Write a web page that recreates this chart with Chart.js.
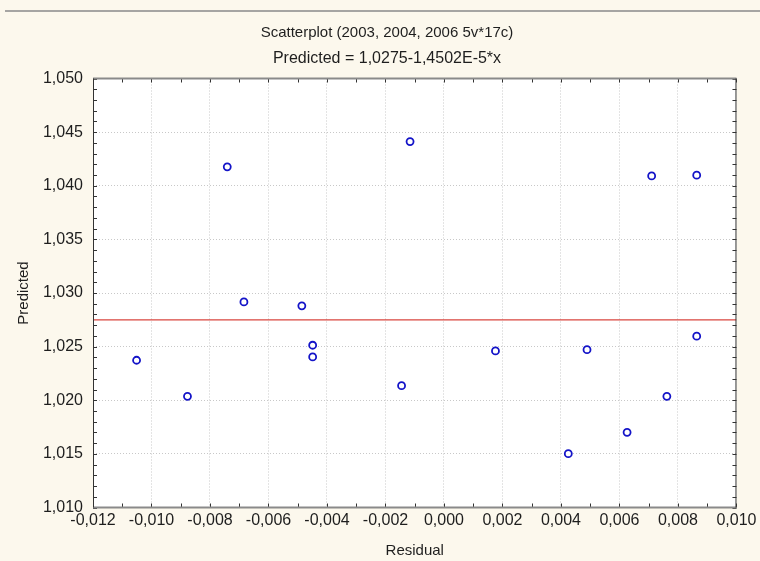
<!DOCTYPE html>
<html>
<head>
<meta charset="utf-8">
<script src="https://cdn.jsdelivr.net/npm/chart.js@4.4.1/dist/chart.umd.min.js"></script>
<style>
  html, body { margin: 0; padding: 0; background: #fcf8ed; }
  #wrap { width: 760px; height: 561px; position: relative; }
</style>
</head>
<body>
<div id="wrap"><canvas id="c"></canvas></div>
<script>
// Residuals vs predicted values, 17 cases
const residual = [
  -0.01051, -0.00877, -0.00741, -0.00684, -0.00486, -0.00449, -0.00449,
  -0.00116, -0.00145, 0.00176, 0.00489, 0.00864, 0.00762, 0.00626,
  0.00425, 0.00710, 0.00864
];
const predicted = [
  1.02373, 1.02037, 1.04176, 1.02917, 1.02880, 1.02513, 1.02404,
  1.04412, 1.02136, 1.02460, 1.02472, 1.02597, 1.02037, 1.01701,
  1.01502, 1.04092, 1.04099
];

// Fitted line: Predicted = 1,0275 - 1,4502E-5 * x
const intercept = 1.0275;
const slope = -1.4502e-5;

// Axis ranges and tick spacing
const xRange = [-0.012, 0.010];
const yRange = [1.010, 1.050];
const xMajorStep = 0.002;
const yMajorStep = 0.005;
const minorStep = 0.001;

const titleText = 'Scatterplot (2003, 2004, 2006 5v*17c)';
const subtitleText = 'Predicted = 1,0275-1,4502E-5*x';
const xTitle = 'Residual';
const yTitle = 'Predicted';

const FONT = 'Liberation Sans, Arial, sans-serif';
const BG = '#fcf8ed';
const INK = '#1e1e1e';

function fmt(v) {
  if (Math.abs(v) < 1e-9) v = 0;
  return v.toFixed(3).replace('.', ',');
}
function isMajor(v, step) {
  const n = Math.round(v / minorStep);
  const m = Math.round(step / minorStep);
  return n % m === 0;
}

const points = residual.map((x, i) => ({ x: x, y: predicted[i] }));
const fitLine = xRange.map(x => ({ x: x, y: intercept + slope * x }));

const framePlugin = {
  id: 'frame',
  beforeDraw(chart) {
    const { ctx, chartArea: a } = chart;
    ctx.save();
    ctx.fillStyle = BG;
    ctx.fillRect(0, 0, chart.width, chart.height);
    ctx.fillStyle = '#ffffff';
    ctx.fillRect(a.left, a.top, a.right - a.left, a.bottom - a.top);
    // rule across the top of the page
    ctx.strokeStyle = '#8a8a8a';
    ctx.lineWidth = 1.5;
    ctx.beginPath();
    ctx.moveTo(5, 11);
    ctx.lineTo(chart.width, 11);
    ctx.stroke();
    ctx.restore();
  },
  afterDraw(chart) {
    const { ctx, chartArea: a } = chart;
    const xs = chart.scales.x, ys = chart.scales.y;
    ctx.save();
    // inward tick marks on all four sides
    ctx.strokeStyle = '#333';
    ctx.lineWidth = 1;
    const len = 4;
    ctx.beginPath();
    xs.ticks.forEach(t => {
      const px = Math.round(xs.getPixelForValue(t.value)) + 0.5;
      ctx.moveTo(px, a.bottom); ctx.lineTo(px, a.bottom - len);
      ctx.moveTo(px, a.top); ctx.lineTo(px, a.top + len);
    });
    ys.ticks.forEach(t => {
      const py = Math.round(ys.getPixelForValue(t.value)) + 0.5;
      ctx.moveTo(a.left, py); ctx.lineTo(a.left + len, py);
      ctx.moveTo(a.right, py); ctx.lineTo(a.right - len, py);
    });
    ctx.stroke();
    // frame
    ctx.strokeStyle = '#8a8a8a';
    ctx.lineWidth = 2;
    ctx.beginPath();
    ctx.moveTo(a.left, a.top); ctx.lineTo(a.right, a.top);
    ctx.moveTo(a.left, a.bottom); ctx.lineTo(a.right, a.bottom);
    ctx.stroke();
    ctx.strokeStyle = '#333';
    ctx.lineWidth = 1;
    ctx.beginPath();
    ctx.moveTo(a.left + 0.5, a.top); ctx.lineTo(a.left + 0.5, a.bottom);
    ctx.moveTo(a.right - 0.5, a.top); ctx.lineTo(a.right - 0.5, a.bottom);
    ctx.stroke();
    ctx.restore();
  }
};

function gridColor(step, range) {
  return ctx => {
    const v = ctx.tick ? ctx.tick.value : null;
    if (v === null) return 'transparent';
    if (Math.abs(v - range[0]) < 1e-9 || Math.abs(v - range[1]) < 1e-9) return 'transparent';
    return isMajor(v, step) ? '#c8c8c8' : 'transparent';
  };
}

new Chart(document.getElementById('c'), {
  type: 'scatter',
  data: {
    datasets: [
      {
        data: points,
        pointStyle: 'circle',
        pointRadius: 3.5,
        pointBorderWidth: 1.8,
        borderColor: '#1414c8',
        backgroundColor: '#ffffff',
        pointHoverRadius: 3.5
      },
      {
        data: fitLine,
        showLine: true,
        borderColor: '#d9463f',
        borderWidth: 1.2,
        pointRadius: 0,
        pointHoverRadius: 0
      }
    ]
  },
  options: {
    responsive: true,
    maintainAspectRatio: false,
    animation: false,
    events: [],
    layout: { padding: { top: 0, right: 0, bottom: 0, left: 14 } },
    plugins: {
      legend: { display: false },
      tooltip: { enabled: false },
      title: {
        display: true,
        text: titleText,
        color: INK,
        font: { family: FONT, size: 15, weight: 'normal' },
        padding: { top: 24, bottom: 0 }
      },
      subtitle: {
        display: true,
        text: subtitleText,
        color: INK,
        font: { family: FONT, size: 16, weight: 'normal' },
        padding: { top: 7.4, bottom: 9.9 }
      }
    },
    scales: {
      x: {
        type: 'linear',
        min: xRange[0],
        max: xRange[1],
        afterFit(scale) { scale.height = 53.5; },
        ticks: {
          stepSize: minorStep,
          autoSkip: false,
          maxRotation: 0,
          padding: 3.5,
          color: INK,
          font: { family: FONT, size: 16 },
          callback: v => isMajor(v, xMajorStep) ? fmt(v) : ''
        },
        grid: { drawTicks: false, color: gridColor(xMajorStep, xRange), lineWidth: 1 },
        border: { display: false, dash: [1, 2] },
        title: {
          display: true,
          text: xTitle,
          color: INK,
          font: { family: FONT, size: 15 },
          padding: { top: 0, bottom: 1 }
        }
      },
      y: {
        type: 'linear',
        min: yRange[0],
        max: yRange[1],
        afterFit(scale) { scale.width = 79; },
        ticks: {
          stepSize: minorStep,
          autoSkip: false,
          padding: 10,
          color: INK,
          font: { family: FONT, size: 16 },
          callback: v => isMajor(v, yMajorStep) ? fmt(v) : ''
        },
        grid: { drawTicks: false, color: gridColor(yMajorStep, yRange), lineWidth: 1 },
        border: { display: false, dash: [1, 2] },
        title: {
          display: true,
          text: yTitle,
          color: INK,
          font: { family: FONT, size: 15 },
          padding: { top: 1, bottom: 0 }
        }
      },
      // empty margin on the right side of the plot
      yMargin: {
        type: 'linear',
        position: 'right',
        display: true,
        afterFit(scale) { scale.width = 23; },
        ticks: { display: false },
        grid: { display: false },
        border: { display: false },
        title: { display: false }
      }
    }
  },
  plugins: [framePlugin]
});
</script>
</body>
</html>
